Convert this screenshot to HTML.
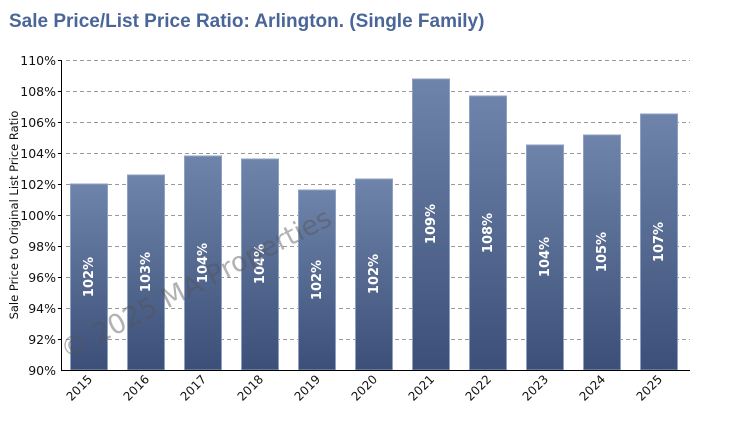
<!DOCTYPE html>
<html><head><style>
body{margin:0;background:#fff;}
</style></head><body>
<svg width="730" height="420" xmlns="http://www.w3.org/2000/svg" font-family="DejaVu Sans, sans-serif">
<defs><linearGradient id="g" x1="0" y1="0" x2="0" y2="1"><stop offset="0" stop-color="#6f84aa"/><stop offset="1" stop-color="#3b4f78"/></linearGradient></defs>
<text x="9" y="27" font-size="19" font-weight="bold" fill="#4a6699" font-family="Liberation Sans, sans-serif">Sale Price/List Price Ratio: Arlington. (Single Family)</text>
<g stroke="#999" stroke-dasharray="4,3" stroke-width="1">
<line x1="66" x2="690" y1="60.5" y2="60.5"/><line x1="66" x2="690" y1="91.5" y2="91.5"/><line x1="66" x2="690" y1="122.5" y2="122.5"/><line x1="66" x2="690" y1="153.5" y2="153.5"/><line x1="66" x2="690" y1="184.5" y2="184.5"/><line x1="66" x2="690" y1="215.5" y2="215.5"/><line x1="66" x2="690" y1="246.5" y2="246.5"/><line x1="66" x2="690" y1="277.5" y2="277.5"/><line x1="66" x2="690" y1="308.5" y2="308.5"/><line x1="66" x2="690" y1="339.5" y2="339.5"/>
</g>
<g font-size="12.5" fill="#111" text-anchor="end">
<text x="56" y="65">110%</text><text x="56" y="96">108%</text><text x="56" y="127">106%</text><text x="56" y="158">104%</text><text x="56" y="189">102%</text><text x="56" y="220">100%</text><text x="56" y="251">98%</text><text x="56" y="282">96%</text><text x="56" y="313">94%</text><text x="56" y="344">92%</text><text x="56" y="375">90%</text>
</g>
<text transform="translate(18,215) rotate(-90)" font-size="11.5" text-anchor="middle" fill="#111">Sale Price to Original List Price Ratio</text>
<g fill="url(#g)" stroke="#8ea0c4" stroke-width="1">
<rect x="70.5" y="184" width="37" height="186"/>
<rect x="127.5" y="175" width="37" height="195"/>
<rect x="184.5" y="156" width="37" height="214"/>
<rect x="241.5" y="159" width="37" height="211"/>
<rect x="298.5" y="190" width="37" height="180"/>
<rect x="355.5" y="179" width="37" height="191"/>
<rect x="412.5" y="79" width="37" height="291"/>
<rect x="469.5" y="96" width="37" height="274"/>
<rect x="526.5" y="145" width="37" height="225"/>
<rect x="583.5" y="135" width="37" height="235"/>
<rect x="640.5" y="114" width="37" height="256"/>
</g>
<g fill="#fff" font-size="13" font-weight="bold" text-anchor="middle">
<text transform="translate(93,277) rotate(-90)">102%</text>
<text transform="translate(150,272) rotate(-90)">103%</text>
<text transform="translate(207,263) rotate(-90)">104%</text>
<text transform="translate(264,264) rotate(-90)">104%</text>
<text transform="translate(321,280) rotate(-90)">102%</text>
<text transform="translate(378,274) rotate(-90)">102%</text>
<text transform="translate(435,224) rotate(-90)">109%</text>
<text transform="translate(492,233) rotate(-90)">108%</text>
<text transform="translate(549,257) rotate(-90)">104%</text>
<text transform="translate(606,252) rotate(-90)">105%</text>
<text transform="translate(663,242) rotate(-90)">107%</text>
</g>
<line x1="61.5" y1="60" x2="61.5" y2="370" stroke="#000"/>
<line x1="61" y1="370.5" x2="690" y2="370.5" stroke="#000"/>
<g stroke="#000"><line x1="58" x2="62" y1="60.5" y2="60.5"/><line x1="58" x2="62" y1="91.5" y2="91.5"/><line x1="58" x2="62" y1="122.5" y2="122.5"/><line x1="58" x2="62" y1="153.5" y2="153.5"/><line x1="58" x2="62" y1="184.5" y2="184.5"/><line x1="58" x2="62" y1="215.5" y2="215.5"/><line x1="58" x2="62" y1="246.5" y2="246.5"/><line x1="58" x2="62" y1="277.5" y2="277.5"/><line x1="58" x2="62" y1="308.5" y2="308.5"/><line x1="58" x2="62" y1="339.5" y2="339.5"/></g>
<g font-size="12" fill="#111" text-anchor="end">
<text transform="translate(93,380) rotate(-45)">2015</text>
<text transform="translate(150,380) rotate(-45)">2016</text>
<text transform="translate(207,380) rotate(-45)">2017</text>
<text transform="translate(264,380) rotate(-45)">2018</text>
<text transform="translate(321,380) rotate(-45)">2019</text>
<text transform="translate(378,380) rotate(-45)">2020</text>
<text transform="translate(435,380) rotate(-45)">2021</text>
<text transform="translate(492,380) rotate(-45)">2022</text>
<text transform="translate(549,380) rotate(-45)">2023</text>
<text transform="translate(606,380) rotate(-45)">2024</text>
<text transform="translate(663,380) rotate(-45)">2025</text>
</g>
<text transform="translate(200,292) rotate(-27)" font-size="27" text-anchor="middle" fill="#555" fill-opacity="0.45">© 2025 MA Properties</text>
</svg>
</body></html>
